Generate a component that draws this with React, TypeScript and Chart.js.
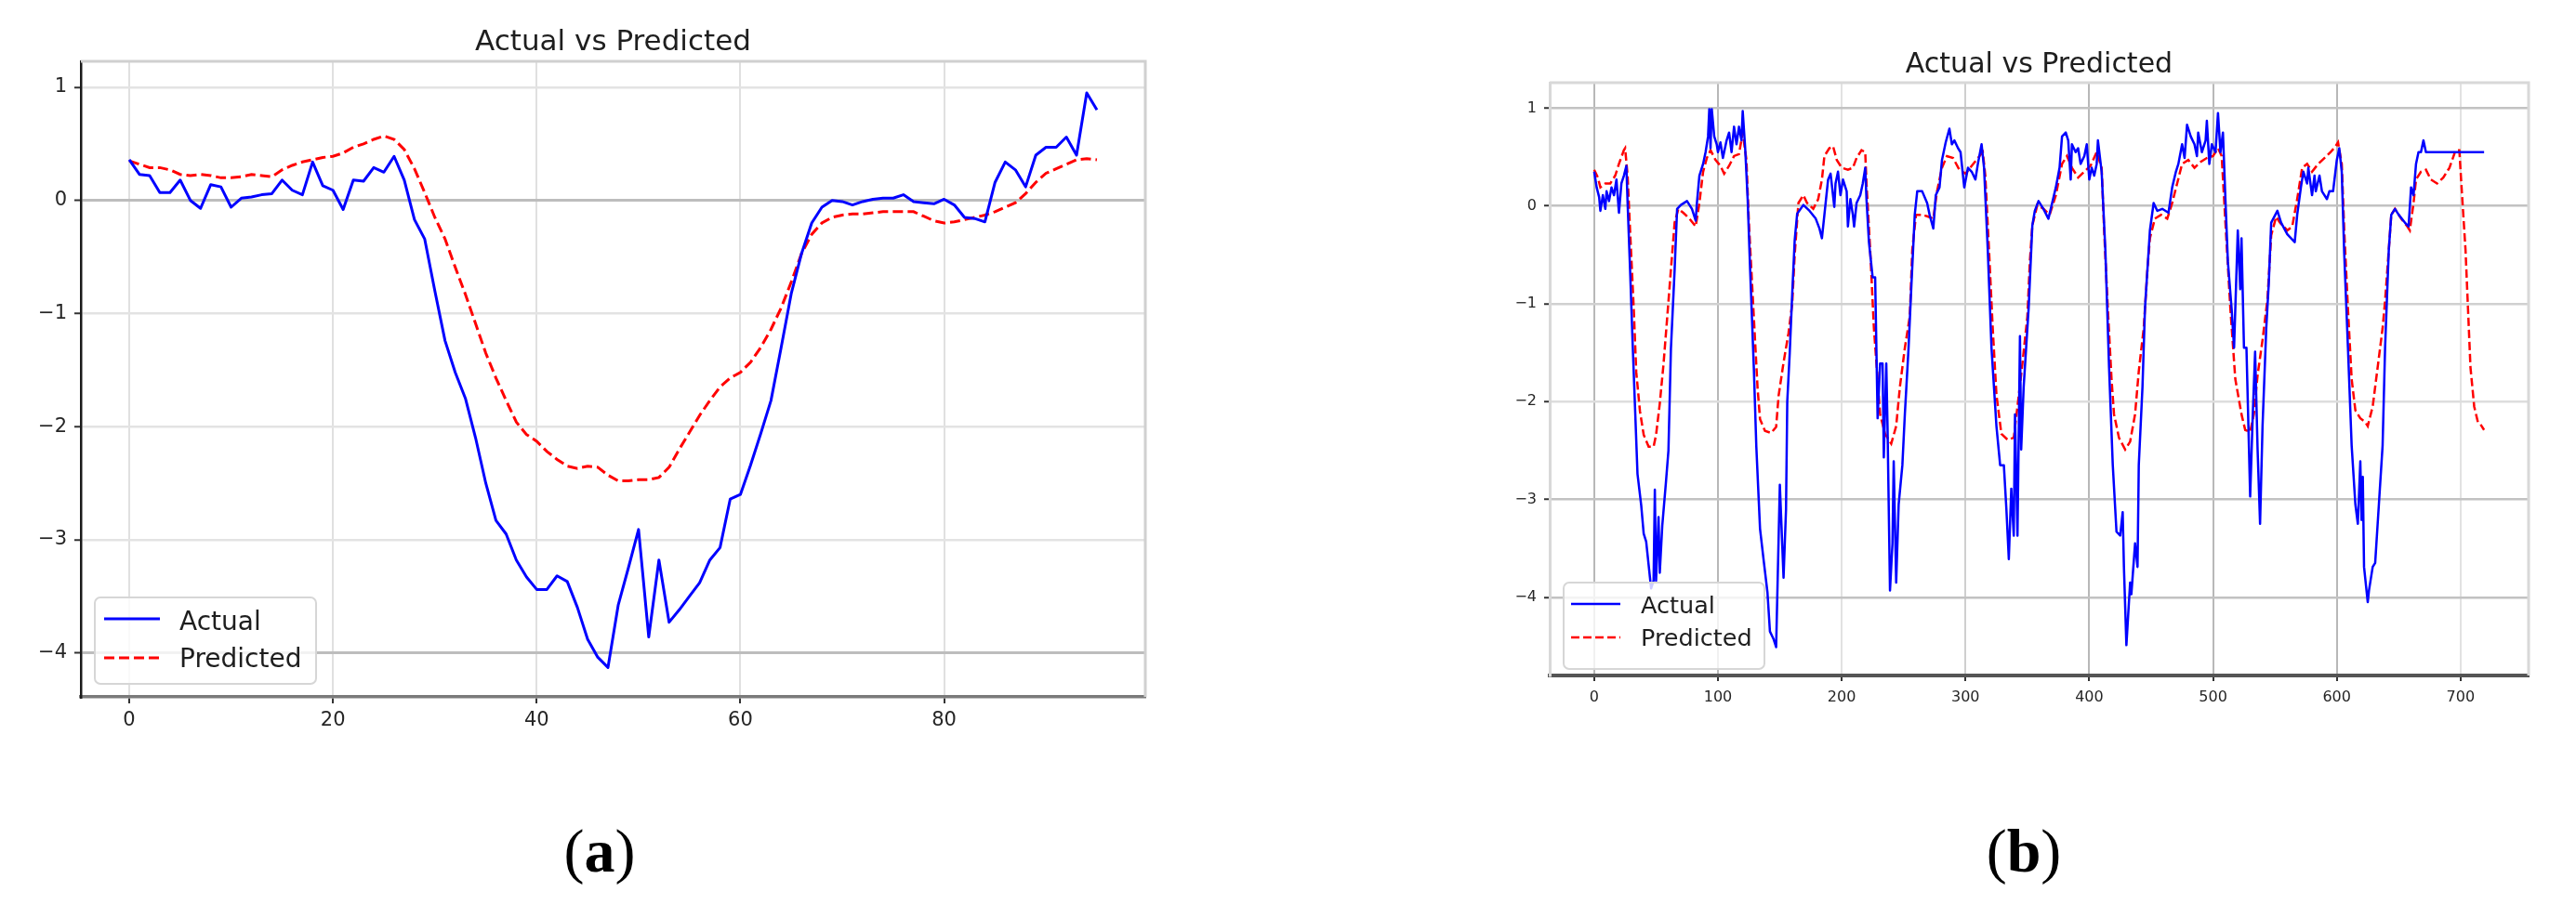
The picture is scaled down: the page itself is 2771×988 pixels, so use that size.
import React, { useEffect, useRef } from 'react';
import { Chart, registerables } from 'chart.js';

Chart.register(...registerables);

// ---------------- data ----------------
const TITLE = 'Actual vs Predicted';
const SERIES_NAMES = ['Actual', 'Predicted'];

// panel (a): 96 samples, index 0..95
const aActual = [
  0.36, 0.23, 0.22, 0.07, 0.07, 0.18, 0.0, -0.07, 0.14, 0.12,
  -0.06, 0.02, 0.03, 0.05, 0.06, 0.18, 0.09, 0.05, 0.34, 0.13,
  0.09, -0.08, 0.18, 0.17, 0.29, 0.25, 0.39, 0.18, -0.17, -0.34,
  -0.8, -1.24, -1.52, -1.75, -2.1, -2.5, -2.83, -2.95, -3.18, -3.33,
  -3.44, -3.44, -3.32, -3.37, -3.6, -3.88, -4.04, -4.13, -3.58, -3.25,
  -2.91, -3.86, -3.18, -3.73, -3.62, -3.5, -3.38, -3.18, -3.07, -2.64,
  -2.6, -2.34, -2.06, -1.77, -1.3, -0.82, -0.47, -0.2, -0.06, 0.0,
  -0.01, -0.04, -0.01, 0.01, 0.02, 0.02, 0.05, -0.01, -0.02, -0.03,
  0.01, -0.04, -0.15, -0.16, -0.19, 0.16, 0.34, 0.27, 0.12, 0.4,
  0.47, 0.47, 0.56, 0.4, 0.95, 0.8,
];
const aPredicted = [
  0.35, 0.32, 0.29, 0.29, 0.27, 0.23, 0.22, 0.23, 0.22, 0.2,
  0.2, 0.21, 0.23, 0.22, 0.21, 0.27, 0.31, 0.34, 0.36, 0.38,
  0.39, 0.42, 0.47, 0.5, 0.54, 0.57, 0.54, 0.45, 0.28, 0.07,
  -0.15, -0.34, -0.59, -0.83, -1.09, -1.35, -1.57, -1.77, -1.96, -2.07,
  -2.13, -2.22, -2.29, -2.35, -2.37, -2.35, -2.36, -2.43, -2.48, -2.48,
  -2.47, -2.47, -2.45, -2.36, -2.2, -2.05, -1.9, -1.77, -1.65, -1.57,
  -1.52, -1.43, -1.3, -1.14, -0.95, -0.72, -0.47, -0.3, -0.2, -0.15,
  -0.13, -0.12, -0.12, -0.11, -0.1, -0.1, -0.1, -0.1, -0.14, -0.18,
  -0.2, -0.19, -0.17, -0.15, -0.13, -0.1, -0.06, -0.02, 0.06, 0.16,
  0.24, 0.28, 0.32, 0.36, 0.37, 0.36,
];
const aXTicks = [0, 20, 40, 60, 80];
const aYTicks = [-4, -3, -2, -1, 0, 1];

// panel (b): [index, value] (index 0..719)
const bActual: [number, number][] = [
  [0,0.35],[2,0.19],[4,0.09],[5,-0.05],[7,0.11],[9,-0.03],[10,0.15],[12,0.05],[14,0.19],[16,0.11],[18,0.27],[20,-0.07],[22,0.23],[24,0.31],[26,0.41],[27,0.03],[29,-0.65],[31,-1.38],[33,-2.06],[35,-2.74],[38,-3.06],[40,-3.35],[42,-3.43],[44,-3.67],[46,-3.91],[48,-3.83],[49,-2.9],[50,-3.83],[52,-3.18],[53,-3.75],[55,-3.27],[58,-2.82],[60,-2.5],[62,-1.46],[65,-0.65],[67,-0.03],[70,0.01],[75,0.05],[79,-0.03],[82,-0.15],[83,0.03],[85,0.31],[88,0.43],[90,0.55],[92,0.71],[93,0.99],[94,0.59],[95,0.99],[97,0.71],[99,0.63],
  [100,0.55],[102,0.65],[104,0.49],[107,0.67],[109,0.75],[111,0.55],[113,0.81],[115,0.63],[117,0.81],[119,0.67],[120,0.97],[122,0.59],[124,0.07],[126,-0.65],[129,-1.66],[131,-2.46],[134,-3.3],[137,-3.63],[140,-3.95],[142,-4.35],[145,-4.43],[147,-4.51],[150,-2.85],[153,-3.8],[155,-3.1],[156,-2.0],[158,-1.5],[160,-0.9],[162,-0.35],[164,-0.08],[169,0.01],[174,-0.05],[179,-0.13],[182,-0.23],[184,-0.33],[186,-0.09],[189,0.27],[191,0.33],[194,-0.01],[195,0.23],[197,0.35],[199,0.11],
  [201,0.27],[204,0.15],[205,-0.21],[207,0.07],[209,-0.09],[210,-0.21],[212,0.03],[215,0.11],[217,0.23],[219,0.39],[220,0.07],[222,-0.37],[225,-0.73],[227,-0.73],[229,-2.17],[231,-1.61],[233,-1.61],[234,-2.57],[236,-1.61],[237,-2.25],[239,-3.93],[241,-3.45],[242,-2.61],[244,-3.85],[246,-3.05],[249,-2.65],[251,-2.13],[254,-1.45],[256,-0.89],[259,-0.09],[261,0.15],[265,0.15],[269,0.03],[271,-0.09],[274,-0.23],[276,0.11],[279,0.19],[281,0.47],[284,0.65],[287,0.79],[289,0.63],[291,0.67],[294,0.59],[296,0.55],[299,0.19],
  [302,0.39],[305,0.35],[308,0.27],[310,0.43],[313,0.63],[315,0.39],[318,-0.45],[321,-1.45],[325,-2.25],[328,-2.65],[331,-2.65],[333,-3.09],[335,-3.61],[337,-2.89],[339,-3.37],[340,-2.13],[342,-3.37],[344,-1.33],[345,-2.49],[347,-1.85],[351,-1.05],[354,-0.2],[356,-0.05],[359,0.05],[363,-0.03],[367,-0.13],[370,0.03],[373,0.19],[376,0.39],[378,0.71],[381,0.75],[383,0.67],[385,0.27],[386,0.63],[389,0.55],[391,0.59],[393,0.43],[396,0.51],[398,0.63],
  [400,0.27],[402,0.39],[404,0.31],[406,0.43],[407,0.67],[410,0.35],[413,-0.45],[416,-1.65],[419,-2.65],[422,-3.33],[425,-3.37],[427,-3.13],[428,-3.69],[430,-4.49],[433,-3.85],[434,-3.97],[437,-3.45],[439,-3.69],[440,-2.65],[443,-1.85],[445,-1.05],[449,-0.25],[452,0.03],[455,-0.05],[459,-0.03],[464,-0.07],[467,0.19],[470,0.35],[472,0.43],[475,0.63],[477,0.49],[479,0.83],[482,0.71],[485,0.63],[487,0.51],[488,0.75],[491,0.55],[494,0.67],[495,0.87],[497,0.43],[499,0.63],
  [502,0.55],[504,0.95],[506,0.55],[508,0.75],[510,0.07],[512,-0.57],[515,-1.05],[517,-1.45],[520,-0.25],[522,-0.85],[523,-0.33],[525,-1.45],[527,-1.45],[530,-2.97],[532,-2.17],[534,-1.49],[536,-2.49],[538,-3.25],[540,-2.25],[543,-1.25],[545,-0.8],[547,-0.17],[552,-0.05],[555,-0.17],[560,-0.29],[566,-0.37],[568,-0.09],[571,0.19],[573,0.35],[576,0.23],[577,0.39],[580,0.11],[582,0.31],[583,0.15],[586,0.31],[588,0.15],[592,0.07],[594,0.15],[597,0.15],
  [600,0.47],[602,0.59],[604,0.35],[606,-0.49],[609,-1.45],[612,-2.45],[615,-3.05],[617,-3.25],[619,-2.61],[620,-3.21],[621,-2.77],[622,-3.69],[625,-4.05],[626,-3.93],[629,-3.69],[631,-3.65],[634,-3.05],[637,-2.45],[639,-1.45],[642,-0.45],[644,-0.09],[647,-0.03],[650,-0.09],[655,-0.17],[658,-0.21],[660,0.19],[662,0.11],[664,0.43],[666,0.55],[668,0.55],[670,0.67],[672,0.55],[719,0.55],
];
const bPredicted: [number, number][] = [
  [0,0.37],[3,0.29],[5,0.19],[9,0.23],[13,0.23],[17,0.31],[20,0.43],[24,0.57],[25,0.59],[27,0.31],[29,-0.25],[32,-1.06],[34,-1.7],[37,-2.1],[40,-2.34],[44,-2.46],[48,-2.46],[50,-2.34],[53,-2.02],[56,-1.62],[59,-1.14],[62,-0.65],[65,-0.17],[68,-0.03],[72,-0.07],[77,-0.13],[82,-0.21],[85,0.03],[88,0.35],[91,0.49],[94,0.57],[98,0.47],
  [102,0.41],[105,0.33],[109,0.41],[113,0.51],[117,0.53],[120,0.75],[123,0.47],[125,-0.17],[128,-0.9],[132,-1.86],[134,-2.18],[138,-2.3],[143,-2.32],[147,-2.26],[149,-1.94],[153,-1.6],[157,-1.3],[160,-1.0],[162,-0.5],[165,0.03],[169,0.11],[172,0.03],[177,-0.03],[181,0.07],[184,0.27],[186,0.51],[190,0.59],[193,0.61],[196,0.47],
  [200,0.39],[205,0.37],[209,0.39],[212,0.49],[216,0.57],[219,0.55],[220,0.23],[223,-0.45],[226,-1.25],[229,-1.77],[231,-2.13],[235,-2.33],[240,-2.43],[244,-2.25],[247,-1.85],[251,-1.45],[255,-1.13],[257,-0.45],[260,-0.09],[265,-0.09],[270,-0.11],[274,-0.13],[277,0.15],[281,0.39],[285,0.51],[290,0.49],[295,0.37],
  [300,0.33],[305,0.41],[310,0.49],[314,0.55],[316,0.31],[319,-0.45],[322,-1.25],[325,-1.93],[329,-2.33],[334,-2.39],[339,-2.37],[342,-2.05],[346,-1.61],[350,-1.13],[352,-0.57],[354,-0.2],[358,0.01],[363,-0.03],[368,-0.09],[373,0.11],[378,0.43],[382,0.51],[386,0.39],[391,0.29],[396,0.35],
  [401,0.41],[406,0.55],[410,0.39],[412,-0.25],[415,-1.05],[418,-1.77],[420,-2.13],[424,-2.37],[429,-2.49],[433,-2.41],[437,-2.13],[440,-1.69],[444,-1.25],[447,-0.65],[449,-0.33],[453,-0.13],[458,-0.09],[463,-0.13],[467,0.03],[471,0.23],[475,0.43],[480,0.47],[485,0.39],[490,0.45],[495,0.49],
  [500,0.51],[504,0.59],[507,0.51],[510,-0.17],[514,-1.05],[518,-1.77],[523,-2.13],[526,-2.29],[530,-2.31],[533,-2.13],[536,-1.73],[540,-1.37],[544,-0.95],[547,-0.3],[551,-0.11],[554,-0.17],[560,-0.25],[564,-0.21],[568,0.07],[572,0.39],[576,0.43],[580,0.35],[585,0.43],[590,0.49],[595,0.55],[599,0.61],
  [601,0.65],[604,0.43],[606,-0.25],[609,-1.05],[612,-1.77],[615,-2.09],[619,-2.17],[623,-2.21],[625,-2.25],[629,-2.05],[633,-1.65],[637,-1.25],[639,-0.97],[642,-0.45],[644,-0.09],[647,-0.03],[652,-0.13],[657,-0.21],[659,-0.25],[662,0.03],[664,0.27],[668,0.35],[672,0.37],[676,0.27],[681,0.23],[686,0.29],[691,0.39],[696,0.57],[699,0.57],
  [701,0.15],[704,-0.45],[706,-1.05],[708,-1.65],[711,-2.05],[714,-2.21],[716,-2.23],[719,-2.29],
];
const bXTicks = [0, 100, 200, 300, 400, 500, 600, 700];
const bYTicks = [-4, -3, -2, -1, 0, 1];

// ---------------- styling / layout ----------------
type Pt = { x: number; y: number };

interface PanelSpec {
  left: number; top: number; width: number; height: number;
  plot: { left: number; right: number; top: number; bottom: number };
  xMin: number; xMax: number; yMin: number; yMax: number;
  xTicks: number[]; yTicks: number[];
  actual: Pt[]; predicted: Pt[];
  lineWidth: number; dash: number[];
  titleSize: number; titleBaseline: number;
  tickSize: number; tickLen: number; xPad: number; yPad: number;
  xGrid: (v: number) => [string, number];
  yGrid: (v: number) => [string, number];
  leftSpine: [string, number]; bottomSpine: [string, number]; otherSpine: [string, number];
  legend: { x0: number; y0: number; x1: number; y1: number; lineX0: number; lineX1: number; lineY: number[]; textX: number; textBase: number[]; size: number };
}

const FONT = '"DejaVu Sans", "Liberation Sans", sans-serif';
const fmt = (v: number) => (v < 0 ? '\u2212' + Math.abs(v) : String(v));

const specA: PanelSpec = {
  left: 0, top: 0, width: 1300, height: 800,
  plot: { left: 87, right: 1232, top: 66, bottom: 750 },
  xMin: -4.75, xMax: 99.75, yMin: -4.39, yMax: 1.23,
  xTicks: aXTicks, yTicks: aYTicks,
  actual: aActual.map((y, i) => ({ x: i, y })),
  predicted: aPredicted.map((y, i) => ({ x: i, y })),
  lineWidth: 3, dash: [11, 5],
  titleSize: 31, titleBaseline: 54,
  tickSize: 21, tickLen: 7, xPad: 6, yPad: 8,
  xGrid: () => ['#e0e0e0', 2],
  yGrid: (v) => (v === 0 || v === -4 ? ['#bdbdbd', 3] : ['#e3e3e3', 2.5]),
  leftSpine: ['#1a1a1a', 2.5], bottomSpine: ['#7a7a7a', 3.5], otherSpine: ['#d0d0d0', 3],
  legend: { x0: 102, y0: 643, x1: 340, y1: 736, lineX0: 112, lineX1: 172, lineY: [666, 708], textX: 193, textBase: [678, 718], size: 28 },
};

const specB: PanelSpec = {
  left: 1600, top: 0, width: 1171, height: 800,
  plot: { left: 67, right: 1120, top: 89, bottom: 727 },
  xMin: -35.95, xMax: 754.95, yMin: -4.8, yMax: 1.26,
  xTicks: bXTicks, yTicks: bYTicks,
  actual: bActual.map(([x, y]) => ({ x, y })),
  predicted: bPredicted.map(([x, y]) => ({ x, y })),
  lineWidth: 2.5, dash: [9, 4],
  titleSize: 30, titleBaseline: 78,
  tickSize: 16, tickLen: 6, xPad: 8, yPad: 8,
  xGrid: (v) => (v === 200 || v === 700 ? ['#e2e2e2', 2] : v === 300 ? ['#cfcfcf', 2] : ['#b8b8b8', 2]),
  yGrid: (v) => (v === -2 ? ['#dddddd', 2.5] : v === -1 ? ['#d0d0d0', 2.5] : ['#c2c2c2', 2.5]),
  leftSpine: ['#d8d8d8', 3], bottomSpine: ['#555555', 4], otherSpine: ['#d8d8d8', 3],
  legend: { x0: 82, y0: 627, x1: 298, y1: 720, lineX0: 90, lineX1: 143, lineY: [650, 686], textX: 165, textBase: [660, 695], size: 25.5 },
};

function Panel({ spec }: { spec: PanelSpec }) {
  const ref = useRef<HTMLCanvasElement | null>(null);

  useEffect(() => {
    const s = spec;
    const canvas = ref.current;
    if (!canvas) return;

    const titlePlugin = {
      id: 'mplTitle',
      afterDraw(chart: any) {
        const { ctx, chartArea } = chart;
        ctx.save();
        ctx.font = `${s.titleSize}px ${FONT}`;
        ctx.fillStyle = '#1e1e1e';
        ctx.textAlign = 'center';
        ctx.textBaseline = 'alphabetic';
        ctx.fillText(TITLE, (chartArea.left + chartArea.right) / 2, s.titleBaseline);
        ctx.restore();
      },
    };

    const framePlugin = {
      id: 'mplFrame',
      afterDatasetsDraw(chart: any) {
        const { ctx, chartArea: a } = chart;
        ctx.save();
        ctx.strokeStyle = s.otherSpine[0];
        ctx.lineWidth = s.otherSpine[1];
        ctx.beginPath();
        ctx.moveTo(a.left, a.top);
        ctx.lineTo(a.right, a.top);
        ctx.lineTo(a.right, a.bottom);
        ctx.stroke();
        ctx.restore();
      },
    };

    const legendPlugin = {
      id: 'mplLegend',
      afterDraw(chart: any) {
        const ctx = chart.ctx;
        const L = s.legend;
        ctx.save();
        const r = 6;
        ctx.beginPath();
        ctx.moveTo(L.x0 + r, L.y0);
        ctx.lineTo(L.x1 - r, L.y0);
        ctx.arcTo(L.x1, L.y0, L.x1, L.y0 + r, r);
        ctx.lineTo(L.x1, L.y1 - r);
        ctx.arcTo(L.x1, L.y1, L.x1 - r, L.y1, r);
        ctx.lineTo(L.x0 + r, L.y1);
        ctx.arcTo(L.x0, L.y1, L.x0, L.y1 - r, r);
        ctx.lineTo(L.x0, L.y0 + r);
        ctx.arcTo(L.x0, L.y0, L.x0 + r, L.y0, r);
        ctx.closePath();
        ctx.fillStyle = 'rgba(255,255,255,0.8)';
        ctx.fill();
        ctx.strokeStyle = '#d6d6d6';
        ctx.lineWidth = 2;
        ctx.stroke();

        const colors = ['#0000ff', '#ff0000'];
        SERIES_NAMES.forEach((name, i) => {
          ctx.beginPath();
          ctx.setLineDash(i === 1 ? s.dash : []);
          ctx.strokeStyle = colors[i];
          ctx.lineWidth = s.lineWidth;
          ctx.moveTo(L.lineX0, L.lineY[i]);
          ctx.lineTo(L.lineX1, L.lineY[i]);
          ctx.stroke();
          ctx.setLineDash([]);
          ctx.font = `${L.size}px ${FONT}`;
          ctx.fillStyle = '#1e1e1e';
          ctx.textAlign = 'left';
          ctx.textBaseline = 'alphabetic';
          ctx.fillText(name, L.textX, L.textBase[i]);
        });
        ctx.restore();
      },
    };

    const tickFont = { family: FONT, size: s.tickSize };

    const chart = new Chart(canvas, {
      type: 'line',
      data: {
        datasets: [
          {
            label: SERIES_NAMES[0],
            data: s.actual,
            borderColor: '#0000ff',
            borderWidth: s.lineWidth,
            pointRadius: 0,
            tension: 0,
            fill: false,
            borderJoinStyle: 'round',
          },
          {
            label: SERIES_NAMES[1],
            data: s.predicted,
            borderColor: '#ff0000',
            borderWidth: s.lineWidth,
            borderDash: s.dash,
            pointRadius: 0,
            tension: 0,
            fill: false,
          },
        ],
      },
      options: {
        animation: false,
        responsive: false,
        maintainAspectRatio: false,
        events: [],
        layout: { padding: { top: s.plot.top, right: s.width - s.plot.right, left: 0, bottom: 0 } },
        plugins: { legend: { display: false }, tooltip: { enabled: false }, title: { display: false } },
        scales: {
          x: {
            type: 'linear',
            min: s.xMin,
            max: s.xMax,
            afterBuildTicks: (sc: any) => { sc.ticks = s.xTicks.map((v) => ({ value: v })); },
            afterFit: (sc: any) => { sc.height = s.height - s.plot.bottom; },
            ticks: {
              autoSkip: false, maxRotation: 0, minRotation: 0, padding: s.xPad,
              font: tickFont, color: '#262626',
              callback: (v: any) => fmt(Number(v)),
            },
            grid: {
              color: (c: any) => (c.tick ? s.xGrid(c.tick.value)[0] : '#ddd'),
              lineWidth: (c: any) => (c.tick ? s.xGrid(c.tick.value)[1] : 1),
              tickLength: s.tickLen, tickColor: '#333', tickWidth: 2,
            },
            border: { display: true, color: s.bottomSpine[0], width: s.bottomSpine[1] },
          },
          y: {
            type: 'linear',
            min: s.yMin,
            max: s.yMax,
            afterBuildTicks: (sc: any) => { sc.ticks = s.yTicks.map((v) => ({ value: v })); },
            afterFit: (sc: any) => { sc.width = s.plot.left; },
            ticks: {
              autoSkip: false, padding: s.yPad,
              font: tickFont, color: '#262626',
              callback: (v: any) => fmt(Number(v)),
            },
            grid: {
              color: (c: any) => (c.tick ? s.yGrid(c.tick.value)[0] : '#ddd'),
              lineWidth: (c: any) => (c.tick ? s.yGrid(c.tick.value)[1] : 1),
              tickLength: s.tickLen, tickColor: '#333', tickWidth: 2,
            },
            border: { display: true, color: s.leftSpine[0], width: s.leftSpine[1] },
          },
        },
      } as any,
      plugins: [framePlugin, legendPlugin, titlePlugin],
    });

    return () => chart.destroy();
  }, [spec]);

  return (
    <canvas
      ref={ref}
      width={spec.width}
      height={spec.height}
      style={{ position: 'absolute', left: spec.left, top: spec.top, width: spec.width, height: spec.height }}
    />
  );
}

const captionStyle = (cx: number): React.CSSProperties => ({
  position: 'absolute',
  left: cx,
  top: 916,
  transform: 'translate(-50%, -50%)',
  fontFamily: '"Liberation Serif", "Times New Roman", serif',
  fontSize: 66,
  lineHeight: 1,
  color: '#000',
  whiteSpace: 'nowrap',
});

export default function App() {
  return (
    <div style={{ position: 'absolute', left: 0, top: 0, width: 2771, height: 988, background: '#fff', overflow: 'hidden' }}>
      <Panel spec={specA} />
      <Panel spec={specB} />
      <div style={captionStyle(645)}>(<b>a</b>)</div>
      <div style={captionStyle(2177)}>(<b>b</b>)</div>
    </div>
  );
}
